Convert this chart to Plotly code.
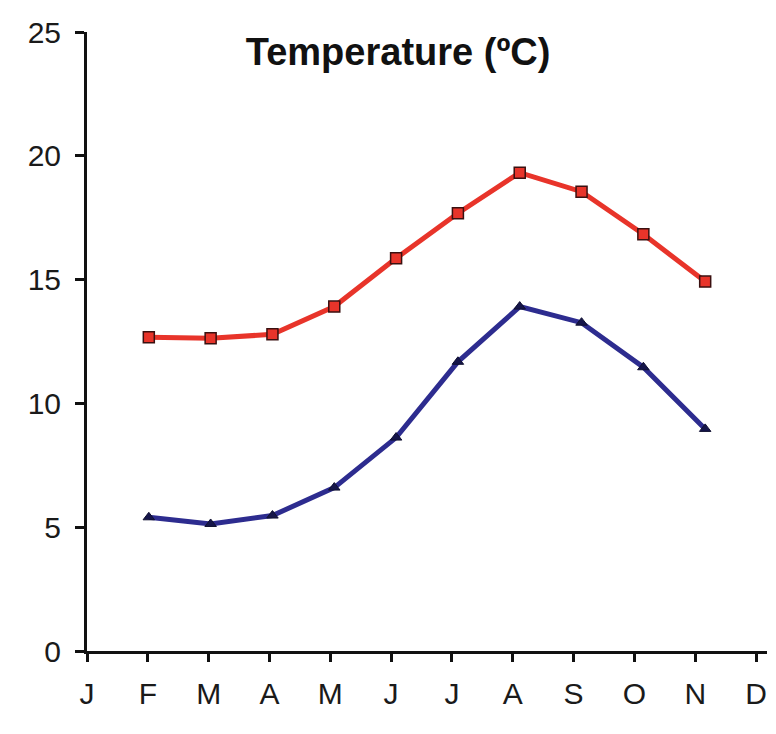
import plotly.graph_objects as go

months = ["J", "F", "M", "A", "M", "J", "J", "A", "S", "O", "N", "D"]
data_month_idx = [1, 2, 3, 4, 5, 6, 7, 8, 9, 10]
temp_max = [12.67, 12.63, 12.79, 13.91, 15.86, 17.68, 19.32, 18.55, 16.83, 14.92]
temp_min = [5.40, 5.13, 5.47, 6.60, 8.62, 11.68, 13.91, 13.26, 11.46, 8.97]
y_ticks = [0, 5, 10, 15, 20, 25]

fig = go.Figure()
# empty trace so the month axis (x/y subplot) is drawn
fig.add_trace(go.Scatter(x=[], y=[], xaxis="x", yaxis="y", mode="lines",
                         showlegend=False, hoverinfo="skip"))
fig.add_trace(go.Scatter(
    x=data_month_idx, y=temp_max, xaxis="x2", mode="lines+markers",
    line=dict(color="#e8342a", width=5),
    marker=dict(symbol="square", size=11, color="#e8342a",
                line=dict(color="#3a1010", width=1.5)),
    showlegend=False, hoverinfo="skip"))
fig.add_trace(go.Scatter(
    x=data_month_idx, y=temp_min, xaxis="x2", mode="lines+markers",
    line=dict(color="#2d2c8f", width=5),
    marker=dict(symbol="triangle-up", size=10, color="#15154a",
                line=dict(color="#101030", width=1)),
    showlegend=False, hoverinfo="skip"))

font_family = "Liberation Sans, Arial, sans-serif"
fig.update_layout(
    width=776, height=734,
    margin=dict(l=87, r=9, t=32, b=83),
    paper_bgcolor="white", plot_bgcolor="white",
    title=dict(text="<b>Temperature (ºC)</b>", x=0.513, xanchor="center",
               y=0.93, yanchor="middle",
               font=dict(family=font_family, size=38, color="#111")),
    xaxis=dict(range=[0, 11.18], tickmode="array", tickvals=list(range(12)),
               ticktext=months, showgrid=False, zeroline=False,
               showline=True, linecolor="#111", linewidth=3,
               ticks="outside", ticklen=8, tickwidth=2.5, tickcolor="#111",
               tickfont=dict(family=font_family, size=30, color="#1a1a1a"),
               ticklabelstandoff=6),
    xaxis2=dict(range=[0, 11], overlaying="x", visible=False),
    yaxis=dict(range=[0, 25], tickmode="array", tickvals=y_ticks,
               showgrid=False, zeroline=False,
               showline=True, linecolor="#111", linewidth=3,
               ticks="outside", ticklen=9, tickwidth=2.5, tickcolor="#111",
               tickfont=dict(family=font_family, size=30, color="#1a1a1a"),
               ticklabelstandoff=8),
)

fig.write_html("out.html")
